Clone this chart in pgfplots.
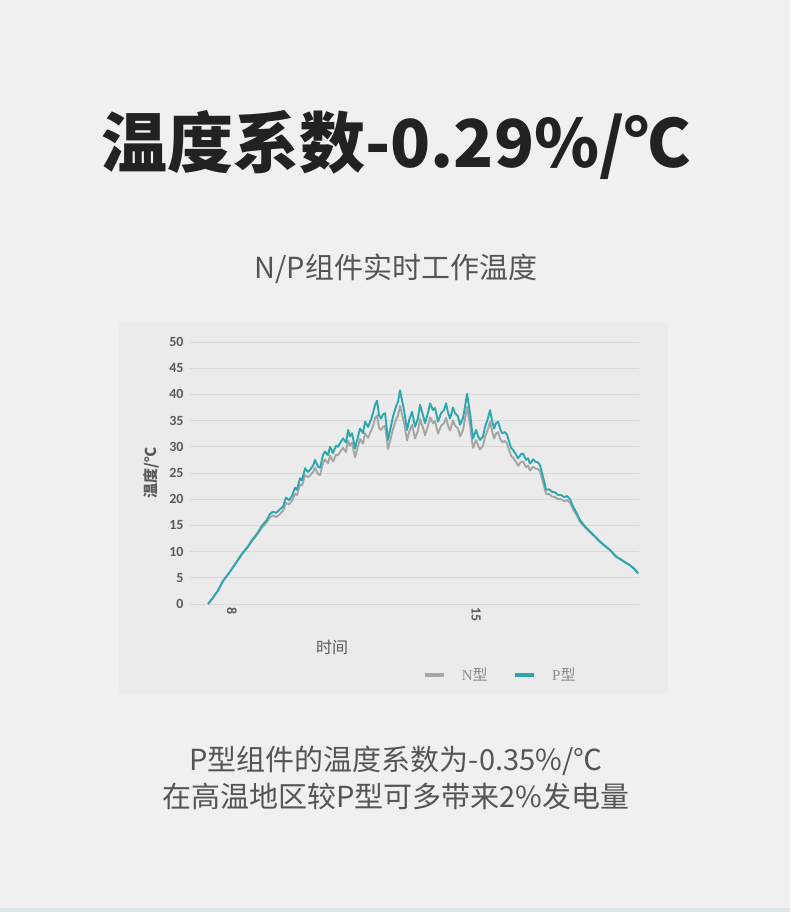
\documentclass[border=0pt]{standalone}
\usepackage{fontspec}
\usepackage{pgfplots}
\usepackage{pgfplotstable}
\pgfplotsset{compat=1.18}
\setmainfont{Carlito}
\newfontfamily\cjk{Noto Sans CJK SC}
\newfontfamily\lgser{Liberation Serif}

\definecolor{pagebg}{HTML}{F0F0F0}
\definecolor{panelbg}{HTML}{EBEBEB}
\definecolor{titlec}{HTML}{222222}
\definecolor{subc}{HTML}{555555}
\definecolor{tickc}{HTML}{595959}
\definecolor{gridc}{HTML}{D9D9D9}
\definecolor{legc}{HTML}{8A8A8A}
\definecolor{ntype}{HTML}{A5A5A5}
\definecolor{ptype}{HTML}{2BA8AD}
\definecolor{stripc}{HTML}{DCE6EA}

% hour, N-type temp, P-type temp
\pgfplotstableread{
h N P
7.197 0 0
7.340 1.2 1.2
7.484 2.6 2.6
7.627 4.4 4.4
7.799 5.9 5.9
7.971 7.5 7.6
8.172 9.5 9.6
8.344 10.9 11.0
8.459 12.0 12.2
8.602 13.2 13.4
8.746 14.6 15.0
8.861 15.4 15.8
8.975 16.6 17.2
9.061 16.9 17.6
9.148 16.6 17.4
9.234 17.0 17.9
9.348 17.8 18.6
9.434 19.3 20.3
9.521 19.0 19.8
9.607 19.7 20.6
9.693 21.0 22.2
9.750 20.8 21.8
9.836 22.8 24.0
9.893 22.6 23.6
9.980 24.6 25.9
10.066 24.2 25.2
10.123 24.5 25.6
10.209 25.2 26.4
10.266 26.0 27.5
10.352 24.8 26.2
10.410 24.6 26.0
10.496 26.9 28.4
10.553 27.6 29.1
10.639 26.8 28.4
10.697 28.3 30.0
10.783 27.2 28.8
10.869 28.5 30.2
10.926 28.4 30.0
11.012 29.3 31.0
11.070 29.8 31.6
11.156 29.0 30.8
11.213 31.2 33.2
11.271 30.2 32.0
11.328 30.8 32.6
11.414 28.0 29.7
11.500 30.1 32.0
11.557 31.5 33.5
11.643 30.6 32.6
11.701 32.6 34.8
11.787 31.7 33.8
11.873 33.0 35.2
11.930 34.0 36.4
11.988 35.4 38.0
12.045 36.0 38.8
12.103 33.6 36.0
12.160 33.2 35.4
12.217 33.8 36.2
12.275 34.0 36.4
12.361 29.6 31.3
12.447 31.8 34.0
12.504 33.4 35.8
12.590 35.2 37.7
12.648 36.0 38.6
12.705 37.8 40.8
12.762 36.2 38.8
12.820 34.6 37.0
12.906 31.2 33.2
12.963 32.8 35.0
13.049 34.2 36.7
13.135 31.6 33.8
13.221 33.1 35.5
13.279 35.3 38.0
13.365 33.6 36.0
13.422 32.2 34.5
13.508 34.0 36.5
13.566 35.6 38.3
13.652 34.5 37.0
13.709 34.9 37.4
13.795 32.5 34.8
13.881 34.0 36.4
13.967 34.5 37.0
14.025 35.6 38.3
14.082 34.0 36.5
14.139 33.1 35.4
14.225 35.0 37.5
14.283 34.0 36.4
14.369 33.5 35.8
14.426 32.0 34.2
14.512 33.2 35.5
14.570 35.4 37.7
14.627 37.6 40.1
14.713 34.2 36.4
14.771 31.0 33.0
14.799 29.8 31.6
14.885 31.3 33.2
14.943 30.2 32.0
15.000 29.5 31.3
15.086 30.2 32.0
15.144 31.9 33.8
15.230 33.4 35.5
15.287 34.8 37.0
15.344 33.0 35.0
15.402 31.6 33.5
15.459 32.5 34.5
15.517 32.8 34.8
15.574 31.6 33.5
15.631 30.9 32.6
15.717 31.1 32.8
15.775 30.6 32.3
15.832 29.4 31.0
15.889 28.3 29.8
15.947 27.9 29.4
16.033 27.1 28.5
16.090 26.4 27.8
16.176 27.1 28.6
16.234 27.2 28.7
16.320 26.1 27.5
16.377 26.4 27.8
16.434 25.5 26.8
16.521 26.2 27.6
16.578 25.9 27.2
16.664 25.7 27.0
16.721 25.3 26.5
16.779 23.9 25.0
16.836 22.5 23.5
16.894 21.0 21.8
16.980 21.0 21.9
17.066 20.5 21.4
17.152 20.4 21.3
17.238 20.0 20.8
17.324 20.0 20.8
17.410 19.6 20.4
17.496 19.8 20.6
17.582 19.3 20.0
17.668 18.1 18.6
17.783 16.8 17.2
17.869 15.7 16.0
18.012 14.6 14.8
18.156 13.7 13.8
18.299 12.8 12.9
18.443 11.8 11.9
18.586 11.0 11.1
18.730 10.3 10.3
18.902 9.1 9.0
19.016 8.6 8.6
19.189 7.9 7.8
19.303 7.4 7.4
19.418 6.8 6.7
19.533 6.0 5.8
}\tempdata

\begin{document}
\begin{tikzpicture}[x=1pt,y=1pt]
\fill[pagebg] (0,0) rectangle (790,912);
\useasboundingbox (0,0) rectangle (790,912);
\fill[stripc] (0,0) rectangle (790,4);
\fill[panelbg] (119,218) rectangle (668,589);

% headings
\node[anchor=base, text=titlec, inner sep=0pt] at (396,744)
  {\cjk\bfseries\fontsize{66}{74}\selectfont 温度系数-0.29\%/℃};
\node[anchor=base, text=subc, inner sep=0pt] at (396,633)
  {\cjk\fontsize{29}{34}\selectfont N/P组件实时工作温度};
\node[anchor=base, text=subc, inner sep=0pt] at (396,141)
  {\cjk\fontsize{29}{34}\selectfont P型组件的温度系数为-0.35\%/℃};
\node[anchor=base, text=subc, inner sep=0pt] at (396,104)
  {\cjk\fontsize{29}{34}\selectfont 在高温地区较P型可多带来2\%发电量};

\begin{axis}[
  at={(190pt,308pt)}, anchor=south west,
  scale only axis, width=449pt, height=262pt,
  xmin=6.68, xmax=19.56, ymin=0, ymax=50,
  ytick={0,5,...,50}, xtick={8,15},
  ymajorgrids, grid style={color=gridc, line width=0.9pt},
  axis line style={draw=none}, major tick length=0pt,
  /pgf/number format/assume math mode=true,
  tick label style={font=\bfseries\fontsize{14}{16}\selectfont, text=tickc},
  yticklabel style={xshift=-3pt},
  xticklabel style={rotate=-90, anchor=west, yshift=-4pt},
  legend columns=2,
  legend style={at={(0.688,-0.271)}, anchor=center, draw=none, fill=none,
    inner sep=0pt, nodes={inner sep=0pt},
    font=\fontsize{15}{17}\selectfont, text=legc,
    /tikz/column 1/.style={column sep=16pt},
    /tikz/column 2/.style={column sep=25pt},
    /tikz/column 3/.style={column sep=16pt}},
  legend image code/.code={\draw[#1, line width=4.5pt] (0pt,0pt) -- (19pt,0pt);},
  no markers, clip=false,
]
\addplot[color=ntype, line width=1.9pt, line join=round] table[x=h, y=N] {\tempdata};
\addlegendentry{\lgser N\cjk 型}
\addplot[color=ptype, line width=1.9pt, line join=round] table[x=h, y=P] {\tempdata};
\addlegendentry{\lgser P\cjk 型}
\end{axis}

% axis titles
\node[text=tickc, inner sep=0pt] at (332,265)
  {\cjk\fontsize{16}{18}\selectfont 时间};
\node[text=tickc, inner sep=0pt, rotate=90] at (151,439)
  {\cjk\bfseries\fontsize{15}{17}\selectfont 温度/℃};
\end{tikzpicture}
\end{document}
